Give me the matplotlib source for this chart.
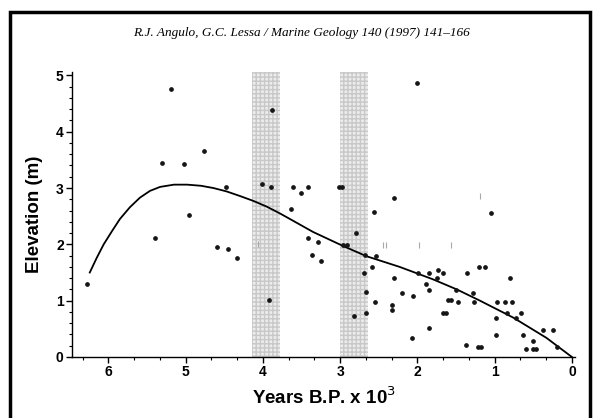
import matplotlib
matplotlib.use('Agg')
import matplotlib.pyplot as plt
from matplotlib.ticker import MultipleLocator
from matplotlib.patches import Rectangle

# sample dates (years B.P. x 10^3) and elevations (m)
age = [5.30, 5.02, 4.76, 4.48, 4.96, 5.39, 4.59, 4.45, 4.33, 6.27,
       4.01, 3.90, 3.61, 3.64, 3.92, 5.19, 3.88, 2.01, 3.51, 3.42,
       3.01, 2.97, 2.30, 2.56, 1.05, 1.20, 1.12, 0.80, 3.41, 3.29,
       3.36, 3.25, 2.79, 2.96, 2.91, 2.68, 2.54, 2.59, 2.69, 2.66,
       2.30, 2.20, 2.06, 1.99, 1.85, 1.73, 1.67, 1.89, 1.85, 1.75,
       1.36, 1.50, 1.28, 1.60, 1.57, 2.33, 2.33, 1.85, 2.07, 1.67,
       1.63, 1.48, 1.27, 1.37, 1.21, 1.18, 0.97, 0.87, 0.77, 0.84,
       0.66, 0.72, 0.98, 0.98, 0.63, 0.37, 0.24, 0.51, 0.59, 0.50,
       0.46, 0.19, 2.66, 2.82, 2.55]
elev = [3.45, 3.42, 3.65, 3.02, 2.52, 2.11, 1.95, 1.91, 1.75, 1.29,
        3.07, 3.02, 3.02, 2.62, 1.02, 4.75, 4.39, 4.87, 2.92, 3.02,
        3.02, 3.02, 2.82, 2.58, 2.55, 1.60, 1.60, 1.41, 2.11, 2.04,
        1.81, 1.71, 2.20, 1.99, 1.99, 1.81, 1.80, 1.60, 1.50, 1.15,
        1.41, 1.13, 1.08, 1.50, 1.50, 1.54, 1.50, 1.29, 1.19, 1.40,
        1.50, 1.19, 1.14, 1.02, 1.02, 0.92, 0.83, 0.52, 0.33, 0.79,
        0.79, 0.98, 0.98, 0.21, 0.17, 0.17, 0.98, 0.98, 0.98, 0.79,
        0.79, 0.69, 0.69, 0.39, 0.39, 0.48, 0.48, 0.28, 0.15, 0.15,
        0.15, 0.17, 0.79, 0.73, 0.98]

# faint marks
faint_age = [4.06, 2.44, 2.40, 1.98, 1.56, 1.19]
faint_elev = [2.00, 1.99, 1.99, 1.99, 1.99, 2.86]

# fitted curve
curve_age = [6.24, 6.15, 6.06, 5.95, 5.85, 5.72, 5.59, 5.46, 5.33, 5.15,
             4.98, 4.80, 4.64, 4.47, 4.30, 4.12, 3.95, 3.78, 3.61, 3.35,
             2.96, 2.66, 2.23, 1.80, 1.49, 1.19, 0.76, 0.33, 0.0]
curve_elev = [1.50, 1.76, 2.00, 2.24, 2.45, 2.66, 2.83, 2.95, 3.02, 3.06,
              3.06, 3.04, 3.00, 2.94, 2.86, 2.77, 2.67, 2.55, 2.42, 2.22,
              1.97, 1.79, 1.60, 1.38, 1.20, 1.00, 0.70, 0.34, 0.0]

# shaded periods
bands = [(3.78, 4.14), (2.64, 3.00)]

header = 'R.J. Angulo, G.C. Lessa / Marine Geology 140 (1997) 141\u2013166'

fig = plt.figure(figsize=(5.94, 4.18), dpi=100)
ax = fig.add_axes([72 / 594, 61 / 418, 503 / 594, 285 / 418])

for lo, hi in bands:
    ax.axvspan(lo, hi, facecolor='#ececec', edgecolor='#c8c8c8', hatch='++++',
               linewidth=0, zorder=0)

ax.plot(curve_age, curve_elev, color='black', lw=1.3, zorder=3)
ax.plot(age, elev, 'o', color='#151515', ms=2.4, zorder=4)
ax.plot(faint_age, faint_elev, '|', color='#a8a8a8', ms=4, mew=0.8, zorder=2)

ax.set_xlim(6.47, -0.04)
ax.set_ylim(0, 5.06)
ax.xaxis.set_major_locator(MultipleLocator(1))
ax.xaxis.set_minor_locator(MultipleLocator(1 / 3))
ax.yaxis.set_major_locator(MultipleLocator(1))
ax.yaxis.set_minor_locator(MultipleLocator(0.2))

for s in ['top', 'right']:
    ax.spines[s].set_visible(False)
ax.spines['left'].set_linewidth(1.0)
ax.spines['bottom'].set_linewidth(1.0)
ax.tick_params(which='major', direction='out', length=4, width=1, pad=2)
ax.tick_params(which='minor', direction='out', length=2.5, width=0.8)
for lab in ax.get_xticklabels() + ax.get_yticklabels():
    lab.set_fontfamily('Liberation Sans')
    lab.set_fontsize(10)
    lab.set_fontweight('bold')

ax.set_xlabel('Years B.P. x 10$^3$', family='Liberation Sans', fontsize=13.5,
              fontweight='bold', labelpad=5)
ax.set_ylabel('Elevation (m)', family='Liberation Sans', fontsize=13.5,
              fontweight='bold', labelpad=9)

fig.text(301 / 594, 1 - 33 / 418, header, ha='center', va='center',
         family='Liberation Serif', style='italic', fontsize=9.5)

# page border of the scan
fig.patches.append(Rectangle((10 / 594, -0.05), 580 / 594, 1.05 - 12 / 418,
                             transform=fig.transFigure, fill=False,
                             edgecolor='black', lw=2.5))

fig.savefig('out.png', dpi=100)
